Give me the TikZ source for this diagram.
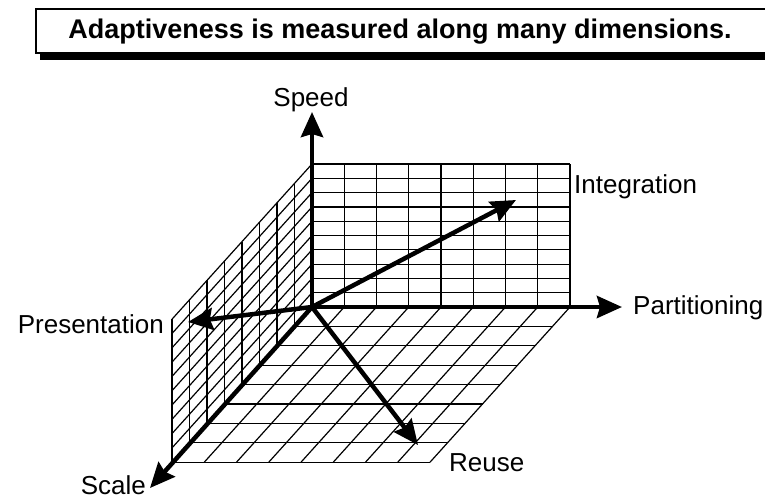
\documentclass[tikz,border=0pt]{standalone}
\usepackage{fontspec}
\setmainfont{Liberation Sans}
\usetikzlibrary{arrows.meta}

\begin{document}
\begin{tikzpicture}[x=1pt, y=-1pt,
  axis/.style={line width=4.5pt, -{Stealth[length=25pt, width=22pt, inset=3pt]}},
  gridline/.style={line width=1.2pt},
  lbl/.style={inner sep=0pt, font=\fontsize{26}{30}\selectfont}]
  \useasboundingbox (0,0) rectangle (765,499);
  \clip (0,0) rectangle (765,499);
  % title
  \fill (40,53) rectangle (770,60);
  \draw[line width=1.2pt, fill=white] (36,9) rectangle (770,53);
  \node[lbl, font=\fontsize{27}{30}\selectfont\bfseries, anchor=base] (title) at (400,38) {Adaptiveness is measured along many dimensions.};
  % origin and arrow ends
  \coordinate (O) at (312,307);
  \coordinate (speedtip) at (312,112);
  \coordinate (parttip) at (622,307);
  \coordinate (scaletip) at (150,488);
  \coordinate (integtip) at (516,200);
  \coordinate (prestip) at (188,322);
  \coordinate (reusetip) at (418,445);
  % back wall
  \foreach \i in {0,...,8}
    \draw[gridline] (312+32.25*\i,164) -- (312+32.25*\i,307);
  \foreach \j in {0,...,10}
    \draw[gridline] (312,164+14.3*\j) -- (570,164+14.3*\j);
  % left wall
  \foreach \i in {0,...,8}
    \draw[gridline] (312-17.5*\i,164+19.4*\i) -- (312-17.5*\i,307+19.4*\i);
  \foreach \j in {0,...,10}
    \draw[gridline] (312,164+14.3*\j) -- (172,319.2+14.3*\j);
  % floor
  \foreach \j in {0,...,8}
    \draw[gridline] (312-17.5*\j,307+19.4*\j) -- (570-17.5*\j,307+19.4*\j);
  \foreach \i in {0,...,8}
    \draw[gridline] (312+32.25*\i,307) -- (172+32.25*\i,462.2);
  % axes
  \draw[axis] (O) -- (speedtip);
  \draw[axis] (O) -- (parttip);
  \draw[axis] (O) -- (scaletip);
  \draw[axis] (O) -- (integtip);
  \draw[axis] (O) -- (prestip);
  \draw[axis] (O) -- (reusetip);
  % labels
  \node[lbl, anchor=base] (speed) at (311,106) {Speed};
  \node[lbl, anchor=base west] (partitioning) at (633,314) {Partitioning};
  \node[lbl, anchor=base west] (integration) at (574,193) {Integration};
  \node[lbl, anchor=base east] (presentation) at (164,333) {Presentation};
  \node[lbl, anchor=base east] (scale) at (146,494) {Scale};
  \node[lbl, anchor=base west] (reuse) at (449,471) {Reuse};
\end{tikzpicture}
\end{document}
